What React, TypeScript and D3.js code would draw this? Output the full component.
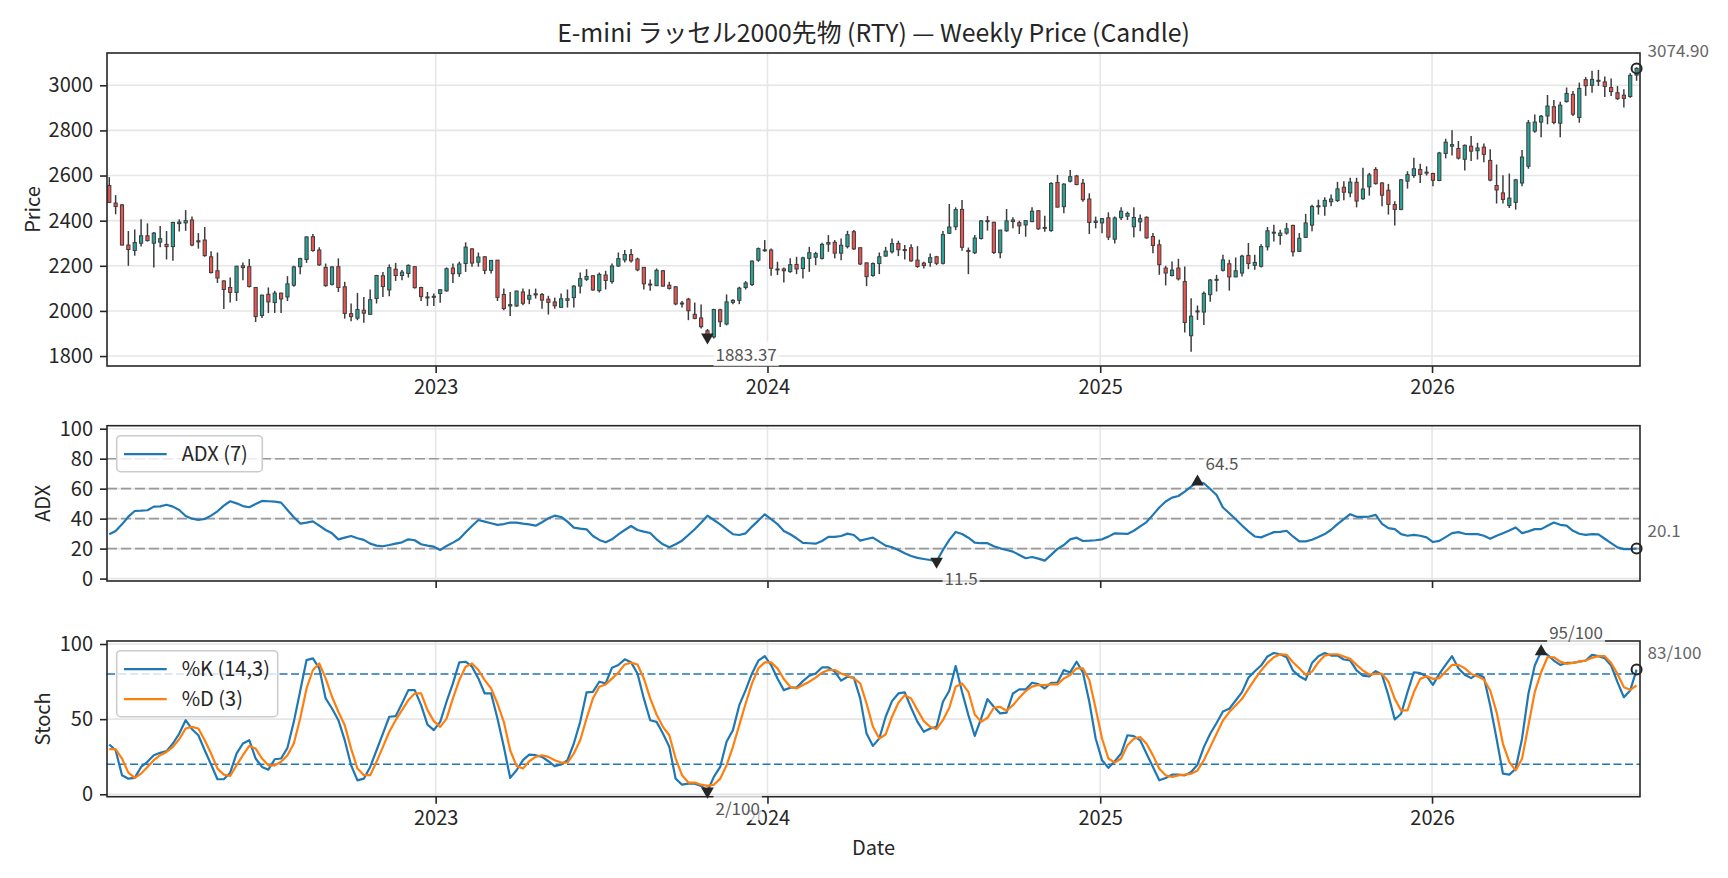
import React, { useEffect, useRef } from 'react';
import * as d3 from 'd3';

// weekly bars, first one on this date, one bar every 7 days
const FIRST_WEEK = '2022-01-07';

const open = [
  2556, 2478, 2470, 2292, 2268, 2300, 2333, 2300, 2305, 2295, 2285, 2387, 2390, 2403, 2311, 2314, 2240, 2178, 2133, 2104,
  2082, 2200, 2196, 2104, 1980, 2074, 2037, 2079, 2062, 2114, 2196, 2228, 2329, 2270, 2193, 2118, 2196, 2107, 1988, 1968,
  2003, 1985, 2055, 2156, 2093, 2185, 2157, 2166, 2196, 2104, 2062, 2065, 2077, 2089, 2190, 2165, 2210, 2275, 2216, 2240,
  2180, 2225, 2073, 2022, 2022, 2084, 2052, 2071, 2073, 2052, 2040, 2016, 2047, 2059, 2110, 2140, 2156, 2090, 2159, 2130,
  2199, 2226, 2250, 2230, 2193, 2119, 2112, 2178, 2114, 2107, 2035, 2052, 1985, 1969, 1912, 1885, 2005, 1942, 2038, 2047,
  2104, 2117, 2225, 2268, 2270, 2186, 2186, 2174, 2206, 2188, 2233, 2238, 2233, 2296, 2304, 2256, 2285, 2351, 2280, 2213,
  2157, 2210, 2243, 2262, 2299, 2272, 2280, 2225, 2212, 2215, 2240, 2211, 2344, 2373, 2450, 2268, 2258, 2321, 2396, 2393,
  2258, 2355, 2396, 2391, 2381, 2396, 2444, 2370, 2356, 2569, 2462, 2575, 2598, 2566, 2496, 2392, 2390, 2413, 2318, 2413,
  2420, 2373, 2395, 2415, 2330, 2293, 2190, 2157, 2190, 2130, 1890, 1997, 1995, 2072, 2137, 2180, 2209, 2151, 2168, 2246,
  2202, 2198, 2284, 2345, 2334, 2345, 2379, 2264, 2326, 2380, 2462, 2464, 2484, 2489, 2548, 2523, 2570, 2497, 2550, 2627,
  2567, 2535, 2471, 2450, 2575, 2600, 2627, 2615, 2609, 2578, 2698, 2730, 2720, 2672, 2730, 2710, 2726, 2667, 2556, 2523,
  2467, 2481, 2567, 2641, 2797, 2837, 2864, 2905, 2832, 2928, 2960, 2857, 3025, 3000, 3018, 3015, 2990, 2967, 2956, 2950,
  3045,
];
const high = [
  2593, 2513, 2474, 2354, 2361, 2406, 2388, 2350, 2376, 2354, 2395, 2406, 2447, 2418, 2345, 2372, 2265, 2259, 2136, 2148,
  2200, 2215, 2230, 2104, 2072, 2104, 2089, 2081, 2154, 2200, 2236, 2330, 2341, 2282, 2210, 2198, 2233, 2129, 2033, 2080,
  2062, 2095, 2160, 2173, 2206, 2213, 2181, 2206, 2198, 2107, 2084, 2077, 2097, 2193, 2210, 2218, 2304, 2278, 2259, 2242,
  2226, 2226, 2099, 2084, 2090, 2099, 2096, 2099, 2080, 2067, 2059, 2077, 2095, 2114, 2170, 2185, 2157, 2170, 2178, 2210,
  2259, 2270, 2274, 2236, 2195, 2139, 2188, 2181, 2129, 2110, 2044, 2058, 2037, 2028, 1920, 2010, 2010, 2073, 2052, 2107,
  2132, 2223, 2281, 2314, 2277, 2218, 2193, 2233, 2240, 2240, 2284, 2262, 2302, 2336, 2314, 2321, 2355, 2359, 2281, 2215,
  2215, 2259, 2284, 2321, 2311, 2292, 2295, 2287, 2218, 2255, 2244, 2354, 2474, 2459, 2492, 2281, 2336, 2403, 2421, 2395,
  2360, 2452, 2415, 2400, 2403, 2459, 2447, 2422, 2570, 2603, 2566, 2625, 2603, 2585, 2521, 2418, 2411, 2437, 2418, 2459,
  2440, 2459, 2427, 2419, 2345, 2316, 2200, 2219, 2231, 2197, 2056, 2024, 2086, 2141, 2160, 2249, 2227, 2237, 2249, 2301,
  2249, 2296, 2372, 2382, 2360, 2390, 2382, 2345, 2430, 2471, 2493, 2504, 2516, 2572, 2575, 2590, 2590, 2634, 2612, 2637,
  2570, 2563, 2486, 2585, 2619, 2679, 2652, 2641, 2612, 2705, 2763, 2801, 2753, 2738, 2775, 2745, 2742, 2716, 2649, 2601,
  2609, 2585, 2713, 2846, 2871, 2868, 2957, 2935, 2927, 2990, 2975, 3012, 3037, 3064, 3068, 3039, 3030, 2997, 2982, 3053,
  3080,
];
const low = [
  2478, 2428, 2290, 2200, 2245, 2285, 2307, 2193, 2282, 2228, 2222, 2352, 2355, 2287, 2276, 2240, 2166, 2124, 2009, 2037,
  2044, 2136, 2104, 1951, 1969, 1991, 1991, 1991, 2044, 2107, 2163, 2213, 2262, 2200, 2107, 2113, 2084, 1966, 1954, 1959,
  1948, 1984, 2033, 2062, 2065, 2133, 2136, 2148, 2099, 2044, 2022, 2022, 2036, 2085, 2124, 2151, 2173, 2196, 2196, 2163,
  2166, 2044, 2003, 1978, 2018, 2025, 2030, 2055, 2010, 1984, 2010, 2015, 2015, 2015, 2077, 2133, 2089, 2082, 2095, 2121,
  2195, 2215, 2215, 2176, 2095, 2089, 2110, 2108, 2095, 2025, 2015, 1959, 1963, 1922, 1878, 1878, 1929, 1936, 2030, 2030,
  2095, 2110, 2218, 2262, 2156, 2159, 2126, 2169, 2163, 2144, 2173, 2203, 2228, 2262, 2233, 2225, 2277, 2270, 2203, 2110,
  2151, 2163, 2240, 2255, 2243, 2228, 2218, 2191, 2188, 2196, 2203, 2206, 2341, 2358, 2267, 2163, 2252, 2317, 2356, 2252,
  2233, 2351, 2366, 2341, 2329, 2393, 2359, 2351, 2351, 2459, 2433, 2569, 2557, 2484, 2341, 2366, 2344, 2314, 2299, 2403,
  2403, 2326, 2353, 2320, 2256, 2160, 2113, 2153, 2135, 1904, 1819, 1960, 1938, 2041, 2086, 2175, 2090, 2149, 2153, 2185,
  2182, 2193, 2268, 2308, 2293, 2338, 2241, 2261, 2323, 2353, 2427, 2422, 2464, 2483, 2490, 2504, 2459, 2493, 2511, 2560,
  2464, 2427, 2379, 2446, 2542, 2590, 2567, 2600, 2553, 2575, 2676, 2689, 2671, 2622, 2664, 2671, 2659, 2575, 2476, 2476,
  2456, 2449, 2553, 2630, 2790, 2770, 2827, 2827, 2770, 2923, 2864, 2834, 2953, 2967, 2997, 2948, 2953, 2935, 2901, 2945,
  3020,
];
const close = [
  2481, 2463, 2292, 2272, 2303, 2333, 2312, 2345, 2320, 2285, 2392, 2394, 2400, 2292, 2306, 2245, 2170, 2146, 2095, 2082,
  2198, 2192, 2108, 1975, 2070, 2040, 2079, 2053, 2120, 2195, 2232, 2328, 2268, 2204, 2112, 2195, 2104, 1989, 1975, 2006,
  1990, 2050, 2157, 2108, 2192, 2157, 2172, 2202, 2103, 2063, 2060, 2062, 2094, 2187, 2165, 2208, 2283, 2212, 2239, 2180,
  2224, 2060, 2011, 2028, 2088, 2034, 2069, 2076, 2048, 2038, 2023, 2054, 2054, 2110, 2143, 2153, 2093, 2162, 2135, 2199,
  2232, 2250, 2222, 2182, 2120, 2117, 2180, 2110, 2100, 2031, 2033, 2001, 1967, 1930, 1883.37, 2006, 1952, 2040, 2047, 2101,
  2124, 2221, 2276, 2271, 2189, 2183, 2178, 2205, 2186, 2235, 2258, 2254, 2295, 2303, 2256, 2291, 2338, 2275, 2208, 2152,
  2210, 2240, 2265, 2298, 2271, 2270, 2222, 2197, 2201, 2236, 2211, 2338, 2372, 2449, 2282, 2265, 2323, 2399, 2400, 2259,
  2358, 2399, 2403, 2377, 2400, 2442, 2364, 2367, 2565, 2460, 2562, 2595, 2560, 2493, 2392, 2398, 2409, 2327, 2412, 2442,
  2432, 2414, 2409, 2324, 2290, 2205, 2168, 2181, 2142, 1949, 1977, 2000, 2078, 2137, 2140, 2226, 2151, 2178, 2243, 2210,
  2215, 2285, 2355, 2349, 2345, 2364, 2262, 2322, 2390, 2463, 2466, 2490, 2496, 2541, 2526, 2571, 2487, 2540, 2603, 2564,
  2513, 2472, 2450, 2581, 2604, 2630, 2605, 2613, 2579, 2700, 2748, 2737, 2677, 2734, 2708, 2722, 2694, 2580, 2536, 2494,
  2500, 2581, 2682, 2834, 2837, 2863, 2908, 2835, 2912, 2964, 2872, 2986, 2998, 3026, 3022, 2995, 2972, 2941, 2942, 3044,
  3074.9,
];

const adx = [
  29.6, 31.8, 36.2, 41.3, 45.1, 45.3, 45.6, 48, 48.2, 49.3, 48, 45.8, 41.8, 40, 39.1, 39.8, 42, 44.9, 48.7, 51.6,
  50.2, 48.4, 47.6, 49.8, 51.8, 51.6, 51.3, 50.7, 45.8, 40.9, 36.7, 37.3, 38.2, 35.3, 32.4, 30.2, 26.2, 27.3, 28.4, 26.9,
  25.8, 23.3, 22, 21.6, 22.4, 23.3, 24.2, 26.2, 25.6, 22.9, 22, 21.3, 19.1, 21.8, 24, 26.4, 30.9, 35.1, 39.1, 38,
  36.9, 35.8, 36.4, 37.3, 37.3, 36.7, 36.2, 35.3, 37.6, 40.2, 42, 41.1, 38, 34, 33.3, 32.9, 28.4, 25.8, 24.2, 26.2,
  29.5, 32.4, 35.1, 32.4, 31.3, 30.4, 26.2, 22.9, 20.9, 22.9, 25.3, 29.1, 32.9, 37.3, 42, 39.1, 36.2, 32.9, 29.6, 29.1,
  30.2, 34.7, 38.7, 42.9, 39.6, 36.4, 31.8, 29.6, 26.9, 23.8, 23.6, 23.3, 25.1, 27.8, 27.8, 28.4, 30, 29.1, 25.3, 26.4,
  27.3, 24.7, 22, 20.9, 19.1, 16.9, 15.1, 13.8, 13.1, 12.4, 11.5, 19.1, 25.8, 31.1, 29.8, 27.3, 24, 23.6, 23.6, 21.6,
  20.2, 19.1, 18, 15.8, 13.6, 14.4, 13.3, 12, 15.8, 19.8, 22.4, 26.2, 27.3, 25.1, 25.3, 25.6, 26.2, 28, 30.2, 30,
  29.8, 31.9, 34.8, 37.7, 42.5, 47.4, 51.4, 54, 55.1, 58, 61.4, 64.5, 63.6, 59.8, 55.8, 47.4, 43.6, 39.6, 35.4, 31.5,
  28.1, 27.5, 29.2, 31, 31.2, 31.9, 28.1, 24.8, 24.8, 25.9, 27.7, 29.7, 32.6, 36.3, 39.6, 43, 41.2, 41.2, 41.4, 42.5,
  36.5, 33.7, 33, 29.7, 28.6, 29.2, 28.6, 27.5, 24.4, 25.2, 27.7, 30.3, 31, 29.9, 29.7, 29.7, 28.6, 26.6, 28.6, 30.3,
  32.1, 34.1, 30.3, 31.5, 33, 33, 35.2, 37.4, 35.9, 35.4, 31.9, 29.9, 29.2, 29.7, 29.5, 26.6, 23.7, 20.8, 19.7, 19.7,
  20.1,
];

const stochK = [
  33.1, 29.3, 12.7, 10.4, 10.9, 18.2, 21.6, 26, 27.6, 28.7, 33.8, 40.4, 49.3, 43.3, 39.3, 29.3, 19.8, 10, 10, 14.4,
  27.1, 33.8, 36, 23.8, 18.2, 16.4, 23.3, 23.8, 30.9, 48.2, 68.7, 89.3, 90.4, 83.8, 63.8, 57.1, 49.3, 36, 19.3, 9.3,
  10.4, 18.2, 29.3, 40.4, 51.6, 52, 60.4, 69.3, 69.3, 59.3, 46.4, 42.7, 48.2, 61.6, 73.8, 87.8, 88.2, 84.9, 77.1, 67.1,
  67.1, 50.4, 31.6, 10.9, 16, 22.7, 26.4, 26, 24.9, 22, 18.7, 19.8, 22.7, 33.8, 48.2, 67.8, 68.2, 74.9, 73.8, 84.2,
  86, 89.8, 87.8, 80.4, 63.8, 49.3, 48.2, 40.4, 31.6, 10.4, 6.4, 7.1, 7.1, 5.6, 2, 11.6, 18.2, 34.9, 42.7, 59.3,
  69.3, 80.4, 88.9, 92, 86, 77.1, 69.3, 70.9, 71.1, 75.3, 78.9, 80.4, 84.4, 84.4, 81.6, 75.6, 78.2, 77.6, 63.8, 40.4,
  32.2, 37.1, 51.6, 62, 67.1, 67.8, 57.6, 48.2, 41.6, 43.8, 44.9, 61.6, 68.9, 85.3, 68.2, 52.7, 38.9, 50.4, 63.3, 58.2,
  53.8, 54.4, 67.1, 69.8, 69.8, 74.2, 73.3, 70.4, 74.2, 74.4, 82.7, 81.1, 88.2, 81.1, 61.6, 37.1, 22.7, 17.6, 22, 27.1,
  39.3, 38.7, 35.9, 27, 18.2, 9.3, 10.8, 13.1, 13.1, 12.6, 14.8, 19.7, 31.4, 40.3, 47.4, 55.1, 56.9, 62.4, 68, 77.5,
  81.9, 85.7, 91.7, 94, 93.2, 91.2, 82.4, 78.6, 76.2, 87.4, 91.9, 94, 92.3, 92.3, 89.7, 89, 82.4, 79, 78.4, 81.9,
  79.5, 65.8, 49.8, 53.6, 68, 81.2, 80.6, 78.6, 72.8, 80.1, 86.1, 91.9, 83.9, 79.5, 77.3, 80.1, 77.9, 59.1, 37, 13.7,
  13.1, 17, 37, 66.9, 85.7, 95, 92.8, 89, 86.1, 87.4, 87.4, 88.3, 89, 92.8, 91.9, 90.5, 85.7, 74.6, 64.6, 69.1,
  83,
];
const stochD = [
  30, 30, 23.8, 14.4, 10.9, 13.8, 18.2, 22.7, 26, 28.2, 31.6, 36.7, 43.8, 44.9, 43.8, 36, 27.1, 17.1, 13.1, 12.2,
  19.3, 26, 32.2, 30.4, 23.8, 19.3, 19.3, 21.6, 26, 33.8, 50.4, 70.4, 82.7, 87.1, 77.1, 64.9, 54.9, 46, 30.4, 17.1,
  12.7, 12.7, 21.6, 31.6, 41.6, 49.3, 56, 62.7, 67.1, 67.1, 56, 48.7, 44.9, 50.4, 63.8, 76, 84.9, 87.1, 82.7, 76,
  70.4, 60.4, 48.2, 29.3, 18.9, 17.1, 22, 24.9, 26, 24.9, 22.7, 21.1, 21.1, 27.1, 36, 50.4, 63.8, 71.6, 73.1, 77,
  81, 86.4, 87.6, 86.4, 77.1, 63.8, 53.1, 44.9, 39.3, 23.8, 12.7, 7.8, 7.8, 6.4, 5.6, 6.4, 10.4, 19.3, 31.6, 46,
  60.4, 73.8, 83.8, 87.8, 87.8, 83.8, 76.7, 71.6, 70.4, 72.7, 74.9, 77.6, 80.9, 82.7, 82.7, 80.4, 78.9, 77.1, 73.8, 60.4,
  44.9, 37.1, 39.8, 51.6, 60.9, 66, 63.8, 56, 48.7, 44.9, 43.3, 49.3, 57.6, 71.6, 73.8, 68.2, 53.1, 48.2, 50.9, 57.6,
  58.2, 55.6, 59.3, 64.2, 68.7, 71.6, 72.7, 72.7, 73.1, 73.1, 77.1, 79.3, 83.8, 83.8, 76, 57.1, 37.1, 23.8, 21.1, 23.8,
  32.7, 37, 38.1, 33.6, 25.9, 17, 12.6, 11.5, 12.6, 13.1, 13.7, 15.9, 22.6, 31.4, 40.3, 49.1, 54.7, 59.1, 63.5, 70.2,
  76.4, 82.4, 87.4, 91.2, 93.2, 92.8, 87.9, 83.9, 79.5, 81.7, 87.9, 92.3, 93.2, 93.2, 91.7, 90.1, 86.1, 82.4, 79.7, 80.1,
  80.1, 75.1, 63.5, 55.8, 55.8, 68, 76.8, 78.6, 76.8, 77.3, 81.7, 86.1, 86.1, 83.9, 80.1, 78.6, 76.4, 69.1, 54.7, 33.6,
  21.5, 15.9, 23.7, 45.8, 68, 81.2, 91.2, 91.2, 88.3, 86.8, 87.4, 88.3, 89, 90.8, 91.9, 91.9, 87.4, 80.1, 71.3, 69.5,
  72.4,
];

const priceTicks = [1800, 2000, 2200, 2400, 2600, 2800, 3000];
const adxTicks = [0, 20, 40, 60, 80, 100];
const adxLevels = [20, 40, 60, 80];
const stochTicks = [0, 50, 100];
const stochLevels = [20, 80];

const TITLE = 'E-mini ラッセル2000先物 (RTY) — Weekly Price (Candle)';

const W = 1728;
const H = 878;
const FONT = '"Noto Sans CJK JP", "Noto Sans", sans-serif';
const INK = '#262626';
const BLUE = '#1f77b4';
const ORANGE = '#ff7f0e';
const GRID = '#e6e6e6';
const DAY = 86400000;

const App = () => {
  const ref = useRef<SVGSVGElement>(null);

  useEffect(() => {
    const svg = d3.select(ref.current);
    svg.selectAll('*').remove();

    const n = close.length;
    const start = new Date(FIRST_WEEK + 'T00:00:00Z');
    const dates = d3.range(n).map((i) => d3.utcDay.offset(start, 7 * i));

    const left = 107;
    const right = 1640;
    const x = d3
      .scaleUtc()
      .domain([new Date(+dates[0] - 2.5 * DAY), new Date(+dates[n - 1] + 3.75 * DAY)])
      .range([left, right]);
    const years = x.ticks(d3.utcYear.every(1));

    const lo = d3.min(low);
    const hi = d3.max(high);
    const pad = (hi - lo) * 0.05;
    const yP = d3.scaleLinear().domain([lo - pad, hi + pad]).range([366, 53]);
    const yA = d3.scaleLinear().domain([-1.6, 102]).range([581, 425.7]);
    const yS = d3.scaleLinear().domain([-1.6, 102]).range([796.7, 641]);

    svg.append('rect').attr('width', W).attr('height', H).attr('fill', '#fff');

    // grid + axes for one panel
    const frame = (y, ticks, label, labelX, showYears) => {
      const [bottom, top] = y.range();
      const g = svg.append('g');
      g.selectAll('.hg')
        .data(ticks)
        .enter()
        .append('line')
        .attr('x1', left)
        .attr('x2', right)
        .attr('y1', (d) => y(d))
        .attr('y2', (d) => y(d))
        .attr('stroke', GRID)
        .attr('stroke-width', 1.6);
      g.selectAll('.vg')
        .data(years)
        .enter()
        .append('line')
        .attr('x1', (d) => x(d))
        .attr('x2', (d) => x(d))
        .attr('y1', top)
        .attr('y2', bottom)
        .attr('stroke', GRID)
        .attr('stroke-width', 1.6);

      const ya = svg
        .append('g')
        .attr('transform', `translate(${left},0)`)
        .call(d3.axisLeft(y).tickValues(ticks).tickSize(7).tickPadding(7).tickFormat(d3.format('d')));
      const xa = svg
        .append('g')
        .attr('transform', `translate(0,${bottom})`)
        .call(
          d3
            .axisBottom(x)
            .tickValues(years)
            .tickSize(7)
            .tickPadding(7)
            .tickFormat((d) => (showYears ? d3.utcFormat('%Y')(d) : '')),
        );
      [ya, xa].forEach((a) => {
        a.select('.domain').remove();
        a.selectAll('line').attr('stroke', INK).attr('stroke-width', 1.6);
        a.selectAll('text').attr('fill', INK).style('font-family', FONT).style('font-size', '20px');
      });

      svg
        .append('text')
        .attr('transform', `translate(${labelX},${(top + bottom) / 2}) rotate(-90)`)
        .attr('text-anchor', 'middle')
        .attr('fill', INK)
        .style('font-family', FONT)
        .style('font-size', '20px')
        .text(label);
      return [top, bottom];
    };

    const spine = ([top, bottom]) => {
      svg
        .append('rect')
        .attr('x', left)
        .attr('y', top)
        .attr('width', right - left)
        .attr('height', bottom - top)
        .attr('fill', 'none')
        .attr('stroke', INK)
        .attr('stroke-width', 1.6);
    };

    // small grey value label with a faint white box behind it
    const note = (px, py, txt, dx, dy, color) => {
      const g = svg.append('g');
      const t = g
        .append('text')
        .attr('x', px + dx)
        .attr('y', py + dy)
        .attr('dy', '0.35em')
        .attr('fill', color)
        .style('font-family', FONT)
        .style('font-size', '17px')
        .text(txt);
      const b = (t.node() as SVGTextElement).getBBox();
      g.insert('rect', 'text')
        .attr('x', b.x - 2)
        .attr('y', b.y)
        .attr('width', b.width + 4)
        .attr('height', b.height)
        .attr('fill', '#fff')
        .attr('opacity', 0.75);
    };

    const tri = (px, py, down) => {
      svg
        .append('path')
        .attr('d', d3.symbol(d3.symbolTriangle, 70)())
        .attr('transform', `translate(${px},${py}) rotate(${down ? 180 : 0})`)
        .attr('fill', INK);
    };

    const ring = (px, py) => {
      svg
        .append('circle')
        .attr('cx', px)
        .attr('cy', py)
        .attr('r', 5)
        .attr('fill', 'none')
        .attr('stroke', INK)
        .attr('stroke-width', 2);
    };

    // ---------- price ----------
    const pBox = frame(yP, priceTicks, 'Price', 40, true);
    const bw = (x(dates[1]) - x(dates[0])) * 0.5;
    const candles = svg.append('g');
    dates.forEach((d, i) => {
      const cx = x(d);
      const up = close[i] >= open[i];
      candles
        .append('line')
        .attr('x1', cx)
        .attr('x2', cx)
        .attr('y1', yP(high[i]))
        .attr('y2', yP(low[i]))
        .attr('stroke', '#3d3d3d')
        .attr('stroke-width', 1.5);
      const yt = yP(Math.max(open[i], close[i]));
      const yb = yP(Math.min(open[i], close[i]));
      candles
        .append('rect')
        .attr('x', cx - bw / 2)
        .attr('y', yt)
        .attr('width', bw)
        .attr('height', Math.max(1, yb - yt))
        .attr('fill', up ? '#26a69a' : '#ef5350')
        .attr('stroke', '#3d3d3d')
        .attr('stroke-width', 1);
    });
    const cMin = d3.minIndex(close);
    tri(x(dates[cMin]), yP(close[cMin]), true);
    ring(x(dates[n - 1]), yP(close[n - 1]));
    spine(pBox);
    note(x(dates[cMin]), yP(close[cMin]), close[cMin].toFixed(2), 8, 18, '#555');
    note(x(dates[n - 1]), yP(close[n - 1]), close[n - 1].toFixed(2), 11, -17, '#666');

    svg
      .append('text')
      .attr('x', (left + right) / 2)
      .attr('y', 42)
      .attr('text-anchor', 'middle')
      .attr('fill', INK)
      .style('font-family', FONT)
      .style('font-size', '24.8px')
      .text(TITLE);

    // ---------- ADX ----------
    const aBox = frame(yA, adxTicks, 'ADX', 50, false);
    svg
      .append('g')
      .selectAll('line')
      .data(adxLevels)
      .enter()
      .append('line')
      .attr('x1', left)
      .attr('x2', right)
      .attr('y1', (d) => yA(d))
      .attr('y2', (d) => yA(d))
      .attr('stroke', '#999')
      .attr('stroke-width', 1.6)
      .attr('stroke-dasharray', '10,4');
    const line = (y) =>
      d3
        .line<number>()
        .x((_, i) => x(dates[i]))
        .y((d) => y(d));
    svg
      .append('path')
      .datum(adx)
      .attr('d', line(yA))
      .attr('fill', 'none')
      .attr('stroke', BLUE)
      .attr('stroke-width', 2.2)
      .attr('stroke-linejoin', 'round');
    const aMin = d3.minIndex(adx);
    const aMax = d3.maxIndex(adx);
    tri(x(dates[aMin]), yA(adx[aMin]), true);
    tri(x(dates[aMax]), yA(adx[aMax]), false);
    ring(x(dates[n - 1]), yA(adx[n - 1]));
    spine(aBox);
    note(x(dates[aMin]), yA(adx[aMin]), adx[aMin].toFixed(1), 8, 18, '#555');
    note(x(dates[aMax]), yA(adx[aMax]), adx[aMax].toFixed(1), 8, -18, '#555');
    note(x(dates[n - 1]), yA(adx[n - 1]), adx[n - 1].toFixed(1), 11, -17, '#666');

    // ---------- Stoch ----------
    const sBox = frame(yS, stochTicks, 'Stoch', 50, true);
    svg
      .append('g')
      .selectAll('line')
      .data(stochLevels)
      .enter()
      .append('line')
      .attr('x1', left)
      .attr('x2', right)
      .attr('y1', (d) => yS(d))
      .attr('y2', (d) => yS(d))
      .attr('stroke', BLUE)
      .attr('stroke-width', 1.6)
      .attr('stroke-dasharray', '8,3.5');
    svg
      .append('path')
      .datum(stochK)
      .attr('d', line(yS))
      .attr('fill', 'none')
      .attr('stroke', BLUE)
      .attr('stroke-width', 2.2)
      .attr('stroke-linejoin', 'round');
    svg
      .append('path')
      .datum(stochD)
      .attr('d', line(yS))
      .attr('fill', 'none')
      .attr('stroke', ORANGE)
      .attr('stroke-width', 2.2)
      .attr('stroke-linejoin', 'round');
    const sMin = d3.minIndex(stochK);
    const sMax = d3.maxIndex(stochK);
    tri(x(dates[sMin]), yS(stochK[sMin]), true);
    tri(x(dates[sMax]), yS(stochK[sMax]), false);
    ring(x(dates[n - 1]), yS(stochK[n - 1]));
    spine(sBox);
    note(x(dates[sMin]), yS(stochK[sMin]), `${Math.round(stochK[sMin])}/100`, 8, 18, '#555');
    note(x(dates[sMax]), yS(stochK[sMax]), `${Math.round(stochK[sMax])}/100`, 8, -18, '#555');
    note(x(dates[n - 1]), yS(stochK[n - 1]), `${Math.round(stochK[n - 1])}/100`, 11, -17, '#666');

    svg
      .append('text')
      .attr('x', (left + right) / 2)
      .attr('y', 855)
      .attr('text-anchor', 'middle')
      .attr('fill', INK)
      .style('font-family', FONT)
      .style('font-size', '20px')
      .text('Date');

    // legends
    const legend = (top, w, items) => {
      const g = svg.append('g');
      g.append('rect')
        .attr('x', 116.7)
        .attr('y', top)
        .attr('width', w)
        .attr('height', 6 + items.length * 30)
        .attr('rx', 4)
        .attr('fill', '#fff')
        .attr('fill-opacity', 0.8)
        .attr('stroke', '#cccccc')
        .attr('stroke-width', 1.6);
      items.forEach(([name, color], k) => {
        const cy = top + 18.5 + k * 30;
        g.append('line')
          .attr('x1', 124)
          .attr('x2', 166.7)
          .attr('y1', cy)
          .attr('y2', cy)
          .attr('stroke', color)
          .attr('stroke-width', 2.2);
        g.append('text')
          .attr('x', 181.7)
          .attr('y', cy)
          .attr('dy', '0.35em')
          .attr('fill', INK)
          .style('font-family', FONT)
          .style('font-size', '20px')
          .text(name);
      });
    };
    legend(435.7, 145.6, [['ADX (7)', BLUE]]);
    legend(650.7, 161, [
      ['%K (14,3)', BLUE],
      ['%D (3)', ORANGE],
    ]);
  }, []);

  return (
    <svg
      ref={ref}
      width={W}
      height={H}
      style={{ position: 'absolute', left: 0, top: 0, display: 'block' }}
    />
  );
};

export default App;
